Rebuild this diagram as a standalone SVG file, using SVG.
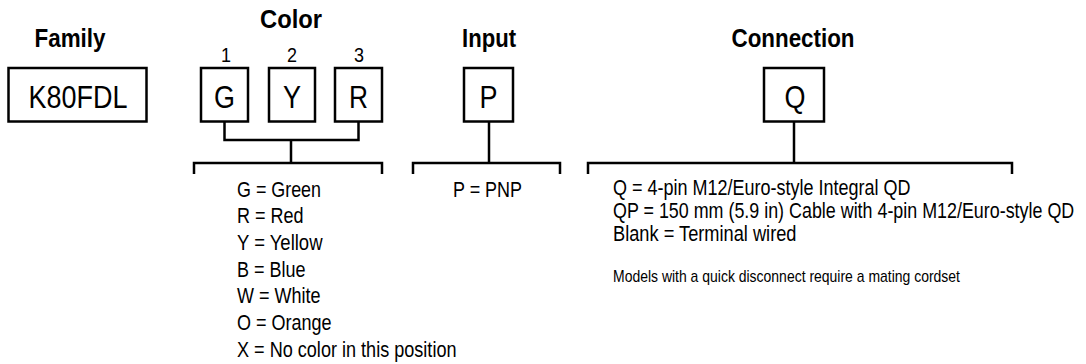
<svg xmlns="http://www.w3.org/2000/svg" width="1086" height="364" viewBox="0 0 1086 364">
<style>
.t{font-family:"Liberation Sans",Arial,sans-serif;font-size:21.5px;fill:#000}
.h{font-family:"Liberation Sans",Arial,sans-serif;font-size:26px;font-weight:bold;fill:#000;text-anchor:middle}
.b{font-family:"Liberation Sans",Arial,sans-serif;font-size:31px;fill:#000;text-anchor:middle}
.n{font-family:"Liberation Sans",Arial,sans-serif;font-size:21px;fill:#000;text-anchor:middle}
.sm{font-family:"Liberation Sans",Arial,sans-serif;font-size:17px;fill:#000}
.box{fill:#fff;stroke:#000;stroke-width:2.5}
.ln{fill:none;stroke:#000;stroke-width:2.5}
</style>
<rect width="1086" height="364" fill="#fff"/>
<g id="headings">
<text class="h" x="70" y="47" textLength="71" lengthAdjust="spacingAndGlyphs">Family</text>
<text class="h" x="291" y="28" textLength="62" lengthAdjust="spacingAndGlyphs">Color</text>
<text class="h" x="489" y="47" textLength="54" lengthAdjust="spacingAndGlyphs">Input</text>
<text class="h" x="793" y="47" textLength="123" lengthAdjust="spacingAndGlyphs">Connection</text>
<text class="n" x="226" y="62" textLength="10" lengthAdjust="spacingAndGlyphs">1</text>
<text class="n" x="292" y="62" textLength="10" lengthAdjust="spacingAndGlyphs">2</text>
<text class="n" x="359" y="62" textLength="10" lengthAdjust="spacingAndGlyphs">3</text>
</g>
<g id="node-family">
<rect class="box" x="8.5" y="68" width="138" height="53.5"/>
<text class="b" x="78" y="108" textLength="99" lengthAdjust="spacingAndGlyphs">K80FDL</text>
</g>
<g id="node-color1">
<rect class="box" x="201" y="68" width="47" height="53.5"/>
<text class="b" x="224.5" y="108" textLength="21" lengthAdjust="spacingAndGlyphs">G</text>
</g>
<g id="node-color2">
<rect class="box" x="269" y="68" width="46" height="53.5"/>
<text class="b" x="292" y="108" textLength="18" lengthAdjust="spacingAndGlyphs">Y</text>
</g>
<g id="node-color3">
<rect class="box" x="335" y="68" width="47" height="53.5"/>
<text class="b" x="358.5" y="108" textLength="19" lengthAdjust="spacingAndGlyphs">R</text>
</g>
<g id="node-input">
<rect class="box" x="464" y="68" width="49" height="53.5"/>
<text class="b" x="488.5" y="108" textLength="18" lengthAdjust="spacingAndGlyphs">P</text>
</g>
<g id="node-connection">
<rect class="box" x="764" y="68" width="60" height="53.5"/>
<text class="b" x="795" y="108" textLength="21" lengthAdjust="spacingAndGlyphs">Q</text>
</g>
<g id="connectors">
<path class="ln" d="M224.5 121.5V140H358.5V121.5M291 140V163"/>
<path class="ln" d="M194 174V163H382V174"/>
<path class="ln" d="M489 121.5V163"/>
<path class="ln" d="M413 174V163H560V174"/>
<path class="ln" d="M794 121.5V163"/>
<path class="ln" d="M588 174V163H1012V174"/>
</g>
<g id="color-list">
<text class="t" x="237" y="196.5" textLength="84" lengthAdjust="spacingAndGlyphs">G = Green</text>
<text class="t" x="237" y="223.2" textLength="66.5" lengthAdjust="spacingAndGlyphs">R = Red</text>
<text class="t" x="237" y="249.9" textLength="85.5" lengthAdjust="spacingAndGlyphs">Y = Yellow</text>
<text class="t" x="237" y="276.6" textLength="68.5" lengthAdjust="spacingAndGlyphs">B = Blue</text>
<text class="t" x="237" y="303.3" textLength="83.5" lengthAdjust="spacingAndGlyphs">W = White</text>
<text class="t" x="237" y="330" textLength="94.5" lengthAdjust="spacingAndGlyphs">O = Orange</text>
<text class="t" x="237" y="356.7" textLength="219.5" lengthAdjust="spacingAndGlyphs">X = No color in this position</text>
</g>
<g id="input-list">
<text class="t" x="453" y="196.5" textLength="69" lengthAdjust="spacingAndGlyphs">P = PNP</text>
</g>
<g id="connection-list">
<text class="t" x="613" y="195" textLength="297.5" lengthAdjust="spacingAndGlyphs">Q = 4-pin M12/Euro-style Integral QD</text>
<text class="t" transform="translate(613 217.8) scale(0.832 1)">QP = 150 mm (5.9 in) Cable with 4-pin M12/Euro-style QD</text>
<text class="t" x="613" y="240.6" textLength="183.5" lengthAdjust="spacingAndGlyphs">Blank = Terminal wired</text>
<text class="sm" x="613" y="282" textLength="347" lengthAdjust="spacingAndGlyphs">Models with a quick disconnect require a mating cordset</text>
</g>
</svg>
